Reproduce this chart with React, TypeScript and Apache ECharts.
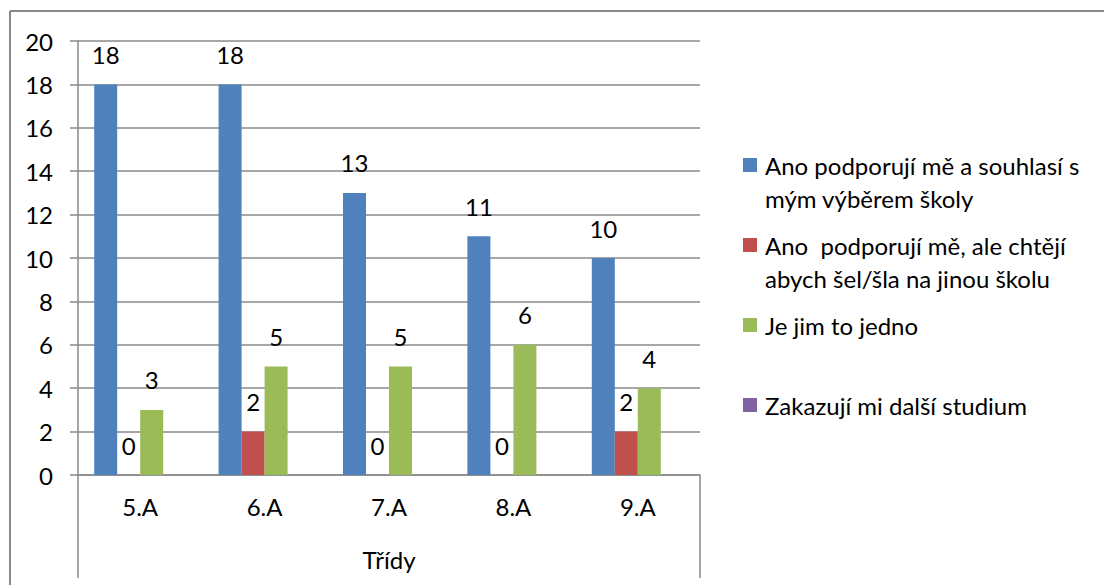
import React, { useEffect, useRef } from "react";
import * as echarts from "echarts";

const categories = ["5.A", "6.A", "7.A", "8.A", "9.A"];
const seriesNames = [
  "Ano podporují mě a souhlasí s mým výběrem školy",
  "Ano  podporují mě, ale chtějí abych šel/šla na jinou školu",
  "Je jim to jedno",
  "Zakazují mi další studium",
];
const legendLines = [
  ["Ano podporují mě a souhlasí s", "mým výběrem školy"],
  ["Ano  podporují mě, ale chtějí", "abych šel/šla na jinou školu"],
  ["Je jim to jedno", " "],
  ["Zakazují mi další studium"],
];
const supportAgree = [18, 18, 13, 11, 10];
const supportOther = [0, 2, 0, 0, 2];
const indifferent = [3, 5, 5, 6, 4];
const forbid = [null, null, null, null, null];
const colors = ["#4F81BD", "#C0504D", "#9BBB59", "#8064A2"];
const yTicks = { min: 0, max: 20, interval: 2 };
const axisTitle = "Třídy";

const FONT = "Lato";
const FS = 24;
const GRID = { left: 78, top: 41, right: 700, bottom: 475 };
const LINE = "#8a8a8a";

export default function App() {
  const ref = useRef<HTMLDivElement>(null);
  useEffect(() => {
    if (!ref.current) return;
    const chart = echarts.init(ref.current, null, { renderer: "svg" });
    const allData = [supportAgree, supportOther, indifferent, forbid];
    const rich: any = {
      g: { width: 8 },
      p: { width: 22 },
      t: { fontSize: FS, lineHeight: 33, color: "#000", fontFamily: FONT },
    };
    colors.forEach((c, i) => {
      rich["s" + i] = { width: 14, height: 14, backgroundColor: c };
    });
    chart.setOption({
      animation: false,
      textStyle: { fontFamily: FONT },
      grid: {
        left: GRID.left,
        top: GRID.top,
        right: 1104 - GRID.right,
        bottom: 585 - GRID.bottom,
        containLabel: false,
      },
      legend: {
        orient: "vertical",
        left: 733,
        top: 148,
        itemGap: 23,
        itemWidth: 0,
        itemHeight: 0,
        selectedMode: false,
        data: seriesNames,
        formatter: (name: string) => {
          const i = seriesNames.indexOf(name);
          const lines = legendLines[i];
          let s = `{s${i}|}{g|}{t|${lines[0]}}`;
          if (lines.length > 1) s += `\n{p|}{t|${lines[1]}}`;
          return s;
        },
        textStyle: { rich },
      },
      xAxis: {
        type: "category",
        data: categories,
        name: axisTitle,
        nameLocation: "middle",
        nameGap: 72,
        nameTextStyle: { fontSize: FS, color: "#000", fontFamily: FONT },
        axisLine: { lineStyle: { color: LINE, width: 1.5 } },
        axisTick: { length: 52, lineStyle: { color: LINE, width: 1.5 } },
        axisLabel: { fontSize: FS, color: "#000", margin: 19, fontFamily: FONT },
      },
      yAxis: {
        type: "value",
        min: yTicks.min,
        max: yTicks.max,
        interval: yTicks.interval,
        axisLine: { show: true, lineStyle: { color: LINE, width: 1.5 } },
        axisTick: { show: true, length: 8, lineStyle: { color: LINE, width: 1.5 } },
        axisLabel: { fontSize: FS, color: "#000", margin: 25, fontFamily: FONT },
        splitLine: { show: true, lineStyle: { color: LINE, width: 1.5 } },
      },
      series: seriesNames.map((name, i) => ({
        name,
        type: "bar",
        data: allData[i],
        barWidth: 23,
        barGap: "0%",
        itemStyle: { color: colors[i] },
        label: {
          show: true,
          position: "top",
          distance: 18,
          fontSize: FS,
          color: "#000",
          fontFamily: FONT,
        },
      })),
      graphic: [
        {
          type: "line",
          shape: { x1: GRID.left, y1: GRID.bottom, x2: GRID.left, y2: 578 },
          style: { stroke: LINE, lineWidth: 1.5 },
        },
        {
          type: "line",
          shape: { x1: GRID.right, y1: GRID.bottom, x2: GRID.right, y2: 578 },
          style: { stroke: LINE, lineWidth: 1.5 },
        },
        {
          type: "line",
          shape: { x1: 10, y1: 11, x2: 1104, y2: 11 },
          style: { stroke: LINE, lineWidth: 2 },
        },
        {
          type: "line",
          shape: { x1: 10, y1: 11, x2: 10, y2: 585 },
          style: { stroke: LINE, lineWidth: 2 },
        },
      ],
    });
    return () => chart.dispose();
  }, []);
  return (
    <div
      ref={ref}
      style={{ position: "absolute", left: 0, top: 0, width: 1104, height: 585, background: "#fff" }}
    />
  );
}
